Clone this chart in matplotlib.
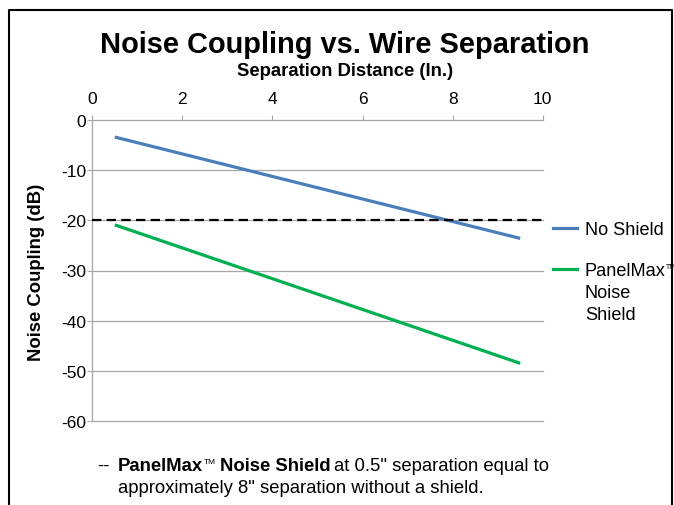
import matplotlib
matplotlib.use("Agg")
import matplotlib.pyplot as plt
from matplotlib.lines import Line2D

plt.rcParams["font.family"] = ["Liberation Sans", "DejaVu Sans"]
plt.rcParams["axes.unicode_minus"] = False

# data
separation = [0.5, 9.5]
no_shield = [-3.4, -23.6]
panelmax_shield = [-20.9, -48.5]
reference_level = -20
x_ticks = [0, 2, 4, 6, 8, 10]
y_ticks = [0, -10, -20, -30, -40, -50, -60]

blue = "#4A7EBB"
green = "#00B050"
grid_gray = "#A6A6A6"

W, H = 674, 506
fig = plt.figure(figsize=(W / 100, H / 100), dpi=100)
ax = fig.add_axes([92.3 / W, 1 - 422 / H, (542.7 - 92.3) / W, (422 - 121) / H])

ax.plot(separation, no_shield, color=blue, lw=2.3, solid_capstyle="butt", zorder=3)
ax.plot(separation, panelmax_shield, color=green, lw=2.3, solid_capstyle="butt", zorder=3)
ax.plot([x_ticks[0], x_ticks[-1]], [reference_level, reference_level], color="black",
        lw=1.6, dashes=(4.2, 2.4), zorder=4)

ax.set_xlim(0, 10)
ax.set_ylim(-60, 0)
ax.set_xticks(x_ticks)
ax.set_yticks(y_ticks)
ax.xaxis.tick_top()
ax.tick_params(axis="x", direction="out", length=3.5, color=grid_gray, labelsize=12.5, pad=6.5)
ax.tick_params(axis="y", direction="out", length=3.5, color=grid_gray, labelsize=12.5, pad=1)
ax.grid(axis="y", color=grid_gray, lw=0.9)
for gl in ax.get_ygridlines():
    gl.set_clip_on(False)
for side in ["right", "bottom", "top"]:
    ax.spines[side].set_visible(False)
ax.spines["left"].set_color(grid_gray)
ax.spines["left"].set_linewidth(0.9)


def fx(px):
    return px / W


def fy(py):
    return 1 - py / H


fig.text(fx(345), fy(53), "Noise Coupling vs. Wire Separation", fontsize=20.9,
         fontweight="bold", ha="center", va="baseline")
fig.text(fx(345), fy(76), "Separation Distance (In.)", fontsize=13.3, fontweight="bold",
         ha="center", va="baseline")
fig.text(fx(37), fy(272), "Noise Coupling (dB)", fontsize=13.3, fontweight="bold",
         rotation=90, ha="center", va="center")

renderer = fig.canvas.get_renderer()


def text_run(x, base, pieces):
    # pieces: (text, size, weight, rise_px, gap_px_after)
    for s, size, weight, rise, gap in pieces:
        t = fig.text(fx(x), fy(base - rise), s, fontsize=size, fontweight=weight,
                     va="baseline")
        x = t.get_window_extent(renderer).x1 + gap


# legend drawn by hand, to the right of the plot
fig.add_artist(Line2D([fx(553), fx(577)], [fy(229), fy(229)], color=blue, lw=2.3))
fig.add_artist(Line2D([fx(553), fx(577)], [fy(270), fy(270)], color=green, lw=2.3))
text_run(585, 235.5, [("No Shield", 13.1, "normal", 0, 0)])
text_run(585, 276.5, [("PanelMax", 13.1, "normal", 0, 0), ("TM", 5, "normal", 7.5, 0)])
text_run(585, 298, [("Noise", 13.1, "normal", 0, 0)])
text_run(585, 319.5, [("Shield", 13.1, "normal", 0, 0)])

# footnote with a bold lead-in
text_run(97, 471, [("--", 13.3, "normal", 0, 0)])
text_run(118, 471, [("PanelMax", 13.3, "bold", 0, 0.5), ("TM", 6, "normal", 7, 4),
                    ("Noise Shield", 13.3, "bold", 0, 4),
                    ("at 0.5\" separation equal to", 13.3, "normal", 0, 0)])
text_run(118, 493, [("approximately 8\" separation without a shield.", 13.3, "normal", 0, 0)])

# frame around the chart area
fig.add_artist(Line2D([fx(9), fx(9), fx(672), fx(672)],
                      [0, fy(10.5), fy(10.5), 0], color="black", lw=1.5))

fig.savefig("out.png", dpi=100)
